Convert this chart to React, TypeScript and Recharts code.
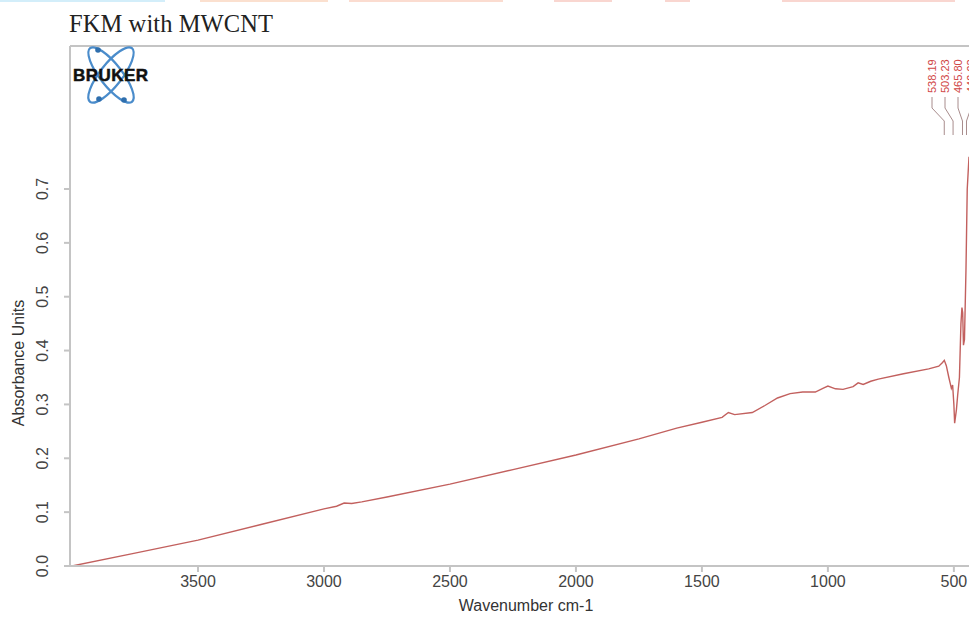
import React from 'react';
import { LineChart, Line, XAxis, YAxis, ReferenceLine } from 'recharts';

// Spectrum (wavenumber cm-1, absorbance)
const wavenumbers = [
  4000, 3750, 3500, 3250, 3000, 2950, 2920, 2890, 2850, 2750, 2500, 2250, 2000,
  1750, 1600, 1500, 1420, 1395, 1370, 1300, 1250, 1200, 1150, 1100, 1050, 1020,
  1000, 970, 940, 900, 880, 860, 830, 800, 700, 600, 560, 545, 538, 530, 520,
  515, 510, 505, 500, 497, 490, 485, 478, 472, 468, 465, 462, 458, 452, 447, 440,
];
const absorbance = [
  0.0, 0.024, 0.048, 0.077, 0.106, 0.111, 0.117, 0.116, 0.119, 0.128, 0.152,
  0.179, 0.206, 0.236, 0.256, 0.267, 0.276, 0.285, 0.281, 0.285, 0.298, 0.312,
  0.32, 0.323, 0.323, 0.33, 0.334, 0.329, 0.328, 0.333, 0.34, 0.337, 0.343,
  0.347, 0.357, 0.366, 0.371, 0.378, 0.382, 0.372, 0.35, 0.34, 0.33, 0.336,
  0.3, 0.265, 0.29, 0.317, 0.35, 0.45, 0.48, 0.47, 0.41, 0.42, 0.55, 0.7, 0.76,
];
const xTicks = [3500, 3000, 2500, 2000, 1500, 1000, 500];
const yTicks = [0, 0.1, 0.2, 0.3, 0.4, 0.5, 0.6, 0.7];
const peakLabels = ['538.19', '503.23', '465.80', '449.93'];
const peakValues = [538.19, 503.23, 465.8, 449.93];

const data = wavenumbers.map((wn, i) => ({ wn, a: absorbance[i] }));

const W = 969;
const H = 626;
const PLOT_LEFT = 70;
const PLOT_TOP = 46;
const PLOT_BOTTOM = 566;
const X_DOMAIN: [number, number] = [440, 4008];
const Y_MAX = 0.9655;
const FONT = 'Arial, "Liberation Sans", sans-serif';
const RED = '#c2605e';

// reversed axis: high wavenumber on the left
const xPx = (wn: number) =>
  PLOT_LEFT + ((X_DOMAIN[1] - wn) / (X_DOMAIN[1] - X_DOMAIN[0])) * (W - PLOT_LEFT);

const YTick = (props: any) => {
  const { x, y, payload } = props;
  const bx = x - 14;
  return (
    <text
      x={bx}
      y={y}
      transform={`rotate(-90, ${bx}, ${y})`}
      textAnchor="middle"
      fontSize={16}
      fontFamily={FONT}
      fill="#444"
    >
      {payload.value.toFixed(1)}
    </text>
  );
};

const Logo = () => (
  <g>
    <ellipse cx={111} cy={75} rx={34} ry={11} transform="rotate(52 111 75)" fill="none" stroke="#4a8ccb" strokeWidth={2.2} />
    <ellipse cx={111} cy={75} rx={34} ry={11} transform="rotate(-52 111 75)" fill="none" stroke="#4a8ccb" strokeWidth={2.2} />
    <circle cx={98} cy={50} r={2.8} fill="#2f6fae" />
    <circle cx={124} cy={100} r={2.8} fill="#2f6fae" />
    <circle cx={99} cy={99} r={2.8} fill="#2f6fae" />
    <text x={73} y={81} fontSize={17} fontWeight={900} fontFamily={FONT} fill="#111" textLength={75} stroke="#111" strokeWidth={0.5}>
      BRUKER
    </text>
  </g>
);

const topBars = [
  { x: 0, w: 165, c: '#d3eefa' },
  { x: 200, w: 128, c: '#fbe0cf' },
  { x: 349, w: 154, c: '#fbdcd0' },
  { x: 554, w: 58, c: '#f9d6d0' },
  { x: 665, w: 25, c: '#f9d6d0' },
  { x: 782, w: 173, c: '#f9d6d0' },
];

export default function App() {
  return (
    <div style={{ position: 'absolute', left: 0, top: 0, width: W, height: H, background: '#fff', overflow: 'hidden' }}>
      <LineChart width={W} height={H} data={data} margin={{ top: PLOT_TOP, right: 0, bottom: 0, left: 0 }}>
        <XAxis
          dataKey="wn"
          type="number"
          domain={X_DOMAIN}
          reversed
          allowDataOverflow
          ticks={xTicks}
          height={H - PLOT_BOTTOM}
          tickSize={6}
          tickMargin={4}
          stroke="#c4c4c4"
          strokeWidth={2}
          tick={{ fontSize: 16, fontFamily: FONT, fill: '#444' }}
        />
        <YAxis
          type="number"
          domain={[0, Y_MAX]}
          allowDataOverflow
          ticks={yTicks}
          width={PLOT_LEFT}
          tickSize={6}
          tickMargin={2}
          stroke="#c4c4c4"
          strokeWidth={2}
          tick={<YTick />}
        />
        <ReferenceLine y={Y_MAX} stroke="#c4c4c4" strokeWidth={2} />
        <Line
          type="linear"
          dataKey="a"
          stroke={RED}
          strokeWidth={1.4}
          dot={false}
          isAnimationActive={false}
        />
      </LineChart>
      <svg width={W} height={H} style={{ position: 'absolute', left: 0, top: 0, pointerEvents: 'none' }}>
        {topBars.map((b, i) => (
          <rect key={i} x={b.x} y={0} width={b.w} height={2} fill={b.c} />
        ))}
        <text x={69} y={32} fontSize={24.5} fontFamily='"Times New Roman", "Liberation Serif", serif' fill="#222" textLength={204}>
          FKM with MWCNT
        </text>
        <Logo />
        {peakLabels.map((lbl, i) => {
          const lx = 932 + i * 13;
          const px = xPx(peakValues[i]);
          return (
            <g key={lbl}>
              <text
                x={lx + 4}
                y={93}
                transform={`rotate(-90, ${lx + 4}, 93)`}
                fontSize={11}
                fontFamily={FONT}
                fill="#d04545"
              >
                {lbl}
              </text>
              <polyline
                points={`${lx},97 ${lx},108 ${px},121 ${px},135`}
                fill="none"
                stroke="#a88c8c"
                strokeWidth={1}
              />
            </g>
          );
        })}
        <text
          x={24}
          y={363}
          transform="rotate(-90, 24, 363)"
          textAnchor="middle"
          fontSize={16}
          fontFamily={FONT}
          fill="#333"
        >
          Absorbance Units
        </text>
        <text x={526} y={611} textAnchor="middle" fontSize={16} fontFamily={FONT} fill="#333">
          Wavenumber cm-1
        </text>
      </svg>
    </div>
  );
}
